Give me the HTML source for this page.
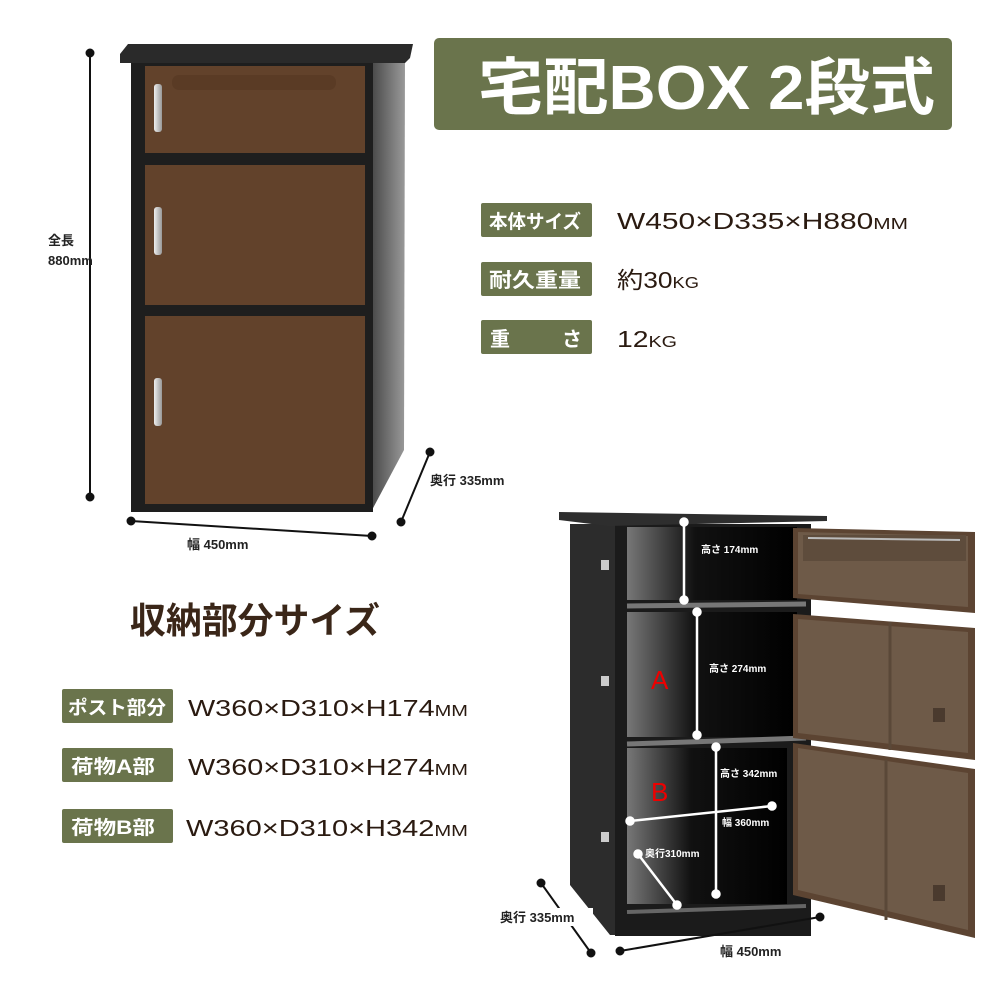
<!DOCTYPE html>
<html><head><meta charset="utf-8"><style>
html,body{margin:0;padding:0;background:#fff}
body{width:1000px;height:1000px;overflow:hidden}
text{font-family:"Liberation Sans","Noto Sans CJK JP",sans-serif}
</style></head><body>
<svg width="1000" height="1000" viewBox="0 0 1000 1000" xmlns="http://www.w3.org/2000/svg">
<defs>
<linearGradient id="side" x1="0" x2="1"><stop offset="0" stop-color="#444"/><stop offset="1" stop-color="#9a9a9a"/></linearGradient>
<linearGradient id="handle" x1="0" x2="1"><stop offset="0" stop-color="#eee"/><stop offset="1" stop-color="#999"/></linearGradient>
<linearGradient id="inner" x1="0" x2="1"><stop offset="0" stop-color="#777"/><stop offset="0.4" stop-color="#111"/><stop offset="1" stop-color="#000"/></linearGradient>
</defs>
<g font-weight="bold">
<rect x="434" y="38" width="518" height="92" rx="5" fill="#6a744c"/>
<text x="478" y="109" font-size="62" fill="#fff" textLength="457" lengthAdjust="spacingAndGlyphs">宅配BOX 2段式</text>
<rect x="481" y="203" width="111" height="34" rx="2" fill="#6a744c"/>
<text x="489" y="228" font-size="19" fill="#fff" textLength="92" lengthAdjust="spacingAndGlyphs">本体サイズ</text>
<text x="617" y="229" font-size="23" fill="#2a1a10" font-weight="normal" textLength="291" lengthAdjust="spacingAndGlyphs">W450×D335×H880<tspan font-size="16">MM</tspan></text>
<rect x="481" y="262" width="111" height="34" rx="2" fill="#6a744c"/>
<text x="489" y="287" font-size="20" fill="#fff" textLength="92" lengthAdjust="spacingAndGlyphs">耐久重量</text>
<text x="617" y="288" font-size="23" fill="#2a1a10" font-weight="normal" textLength="82" lengthAdjust="spacingAndGlyphs">約30<tspan font-size="16">KG</tspan></text>
<rect x="481" y="320" width="111" height="34" rx="2" fill="#6a744c"/>
<text x="490" y="346" font-size="20" fill="#fff">重</text>
<text x="562" y="346" font-size="20" fill="#fff">さ</text>
<text x="617" y="347" font-size="23" fill="#2a1a10" font-weight="normal" textLength="60" lengthAdjust="spacingAndGlyphs">12<tspan font-size="16">KG</tspan></text>

<text x="130" y="633" font-size="36" fill="#3a2618" textLength="250" lengthAdjust="spacingAndGlyphs">収納部分サイズ</text>
<rect x="62" y="689" width="111" height="34" rx="2" fill="#6a744c"/>
<text x="68" y="714" font-size="19" fill="#fff" textLength="98" lengthAdjust="spacingAndGlyphs">ポスト部分</text>
<text x="188" y="716" font-size="23" fill="#2a1a10" font-weight="normal" textLength="280" lengthAdjust="spacingAndGlyphs">W360×D310×H174<tspan font-size="16">MM</tspan></text>
<rect x="62" y="748" width="111" height="34" rx="2" fill="#6a744c"/>
<text x="71" y="773" font-size="19" fill="#fff" textLength="84" lengthAdjust="spacingAndGlyphs">荷物A部</text>
<text x="188" y="775" font-size="23" fill="#2a1a10" font-weight="normal" textLength="280" lengthAdjust="spacingAndGlyphs">W360×D310×H274<tspan font-size="16">MM</tspan></text>
<rect x="62" y="809" width="111" height="34" rx="2" fill="#6a744c"/>
<text x="71" y="834" font-size="19" fill="#fff" textLength="84" lengthAdjust="spacingAndGlyphs">荷物B部</text>
<text x="186" y="836" font-size="23" fill="#2a1a10" font-weight="normal" textLength="282" lengthAdjust="spacingAndGlyphs">W360×D310×H342<tspan font-size="16">MM</tspan></text>
</g>

<polygon points="370,58 405,58 404,450 372,510" fill="url(#side)"/>
<rect x="131" y="60" width="242" height="452" fill="#1e1e1e"/>
<polygon points="128,44 413,44 410,58 405,63 120,63 120,54" fill="#2a2a2a"/>
<rect x="145" y="66" width="220" height="87" fill="#62422b"/>
<rect x="172" y="75" width="164" height="15" rx="7" fill="#5a3b25"/>
<rect x="145" y="165" width="220" height="140" fill="#62422b"/>
<rect x="145" y="316" width="220" height="188" fill="#62422b"/>
<rect x="154" y="84" width="8" height="48" rx="3" fill="url(#handle)"/>
<rect x="154" y="207" width="8" height="48" rx="3" fill="url(#handle)"/>
<rect x="154" y="378" width="8" height="48" rx="3" fill="url(#handle)"/>
<g stroke="#111" stroke-width="2" fill="#111">
<line x1="90" y1="53" x2="90" y2="497"/><circle cx="90" cy="53" r="3.5"/><circle cx="90" cy="497" r="3.5"/>
<line x1="131" y1="521" x2="372" y2="536"/><circle cx="131" cy="521" r="3.5"/><circle cx="372" cy="536" r="3.5"/>
<line x1="430" y1="452" x2="401" y2="522"/><circle cx="430" cy="452" r="3.5"/><circle cx="401" cy="522" r="3.5"/>
</g>
<g font-size="13" fill="#222" font-weight="bold">
<text x="48" y="245">全長</text><text x="48" y="265">880mm</text>
<text x="187" y="549">幅 450mm</text>
<text x="430" y="485">奥行 335mm</text>
</g>

<polygon points="570,524 618,524 618,935 610,935 570,885" fill="#2c2c2c"/>
<rect x="615" y="524" width="196" height="412" fill="#1b1b1b"/>
<polygon points="559,512 827,516 827,521 608,526 559,520" fill="#2e2e2e"/>
<rect x="627" y="527" width="170" height="73" fill="url(#inner)"/>
<rect x="627" y="612" width="170" height="125" fill="url(#inner)"/>
<rect x="627" y="748" width="160" height="156" fill="url(#inner)"/>
<line x1="627" y1="606" x2="806" y2="604" stroke="#777" stroke-width="5"/>
<line x1="627" y1="744" x2="806" y2="738" stroke="#777" stroke-width="5"/>
<line x1="627" y1="912" x2="806" y2="906" stroke="#666" stroke-width="4"/>
<g fill="#ccc"><rect x="601" y="560" width="8" height="10"/><rect x="601" y="676" width="8" height="10"/><rect x="601" y="832" width="8" height="10"/></g>
<polygon points="793,528 975,532 975,613 793,598" fill="#5c4432"/>
<polygon points="798,532 968,536 968,607 798,594" fill="#6e5a48"/>
<rect x="803" y="535" width="163" height="26" fill="#5e4c3c"/>
<line x1="808" y1="538" x2="960" y2="540" stroke="#bbb" stroke-width="2"/>
<polygon points="793,614 975,628 975,760 793,738" fill="#5c4432"/>
<polygon points="798,619 968,632 968,753 798,733" fill="#6e5a48"/>
<line x1="890" y1="622" x2="890" y2="750" stroke="#5a4838" stroke-width="3"/>
<rect x="933" y="708" width="12" height="14" fill="#4a3a2e"/>
<polygon points="793,743 975,769 975,938 793,895" fill="#5c4432"/>
<polygon points="798,748 968,773 968,930 798,890" fill="#6e5a48"/>
<line x1="886" y1="760" x2="886" y2="920" stroke="#5a4838" stroke-width="3"/>
<rect x="933" y="885" width="12" height="16" fill="#4a3a2e"/>
<g stroke="#fff" stroke-width="2.5" fill="#fff">
<line x1="684" y1="522" x2="684" y2="600"/><circle cx="684" cy="522" r="3.5"/><circle cx="684" cy="600" r="3.5"/>
<line x1="697" y1="612" x2="697" y2="735"/><circle cx="697" cy="612" r="3.5"/><circle cx="697" cy="735" r="3.5"/>
<line x1="716" y1="747" x2="716" y2="894"/><circle cx="716" cy="747" r="3.5"/><circle cx="716" cy="894" r="3.5"/>
<line x1="630" y1="821" x2="772" y2="806"/><circle cx="630" cy="821" r="3.5"/><circle cx="772" cy="806" r="3.5"/>
<line x1="638" y1="854" x2="677" y2="905"/><circle cx="638" cy="854" r="3.5"/><circle cx="677" cy="905" r="3.5"/>
</g>
<g font-size="10" fill="#fff" font-weight="bold">
<text x="701" y="553">高さ 174mm</text>
<text x="709" y="672">高さ 274mm</text>
<text x="720" y="777">高さ 342mm</text>
<text x="722" y="826">幅 360mm</text>
<text x="645" y="857">奥行310mm</text>
</g>
<text x="651" y="689" font-size="26" fill="#e00">A</text>
<text x="651" y="801" font-size="26" fill="#e00">B</text>
<g stroke="#111" stroke-width="2" fill="#111">
<line x1="541" y1="883" x2="591" y2="953"/><circle cx="541" cy="883" r="3.5"/><circle cx="591" cy="953" r="3.5"/>
<line x1="620" y1="951" x2="820" y2="917"/><circle cx="620" cy="951" r="3.5"/><circle cx="820" cy="917" r="3.5"/>
</g>
<rect x="498" y="908" width="95" height="18" fill="#fff"/>
<g font-size="13" fill="#222" font-weight="bold">
<text x="500" y="922">奥行 335mm</text>
<text x="720" y="956">幅 450mm</text>
</g>
</svg>
</body></html>
